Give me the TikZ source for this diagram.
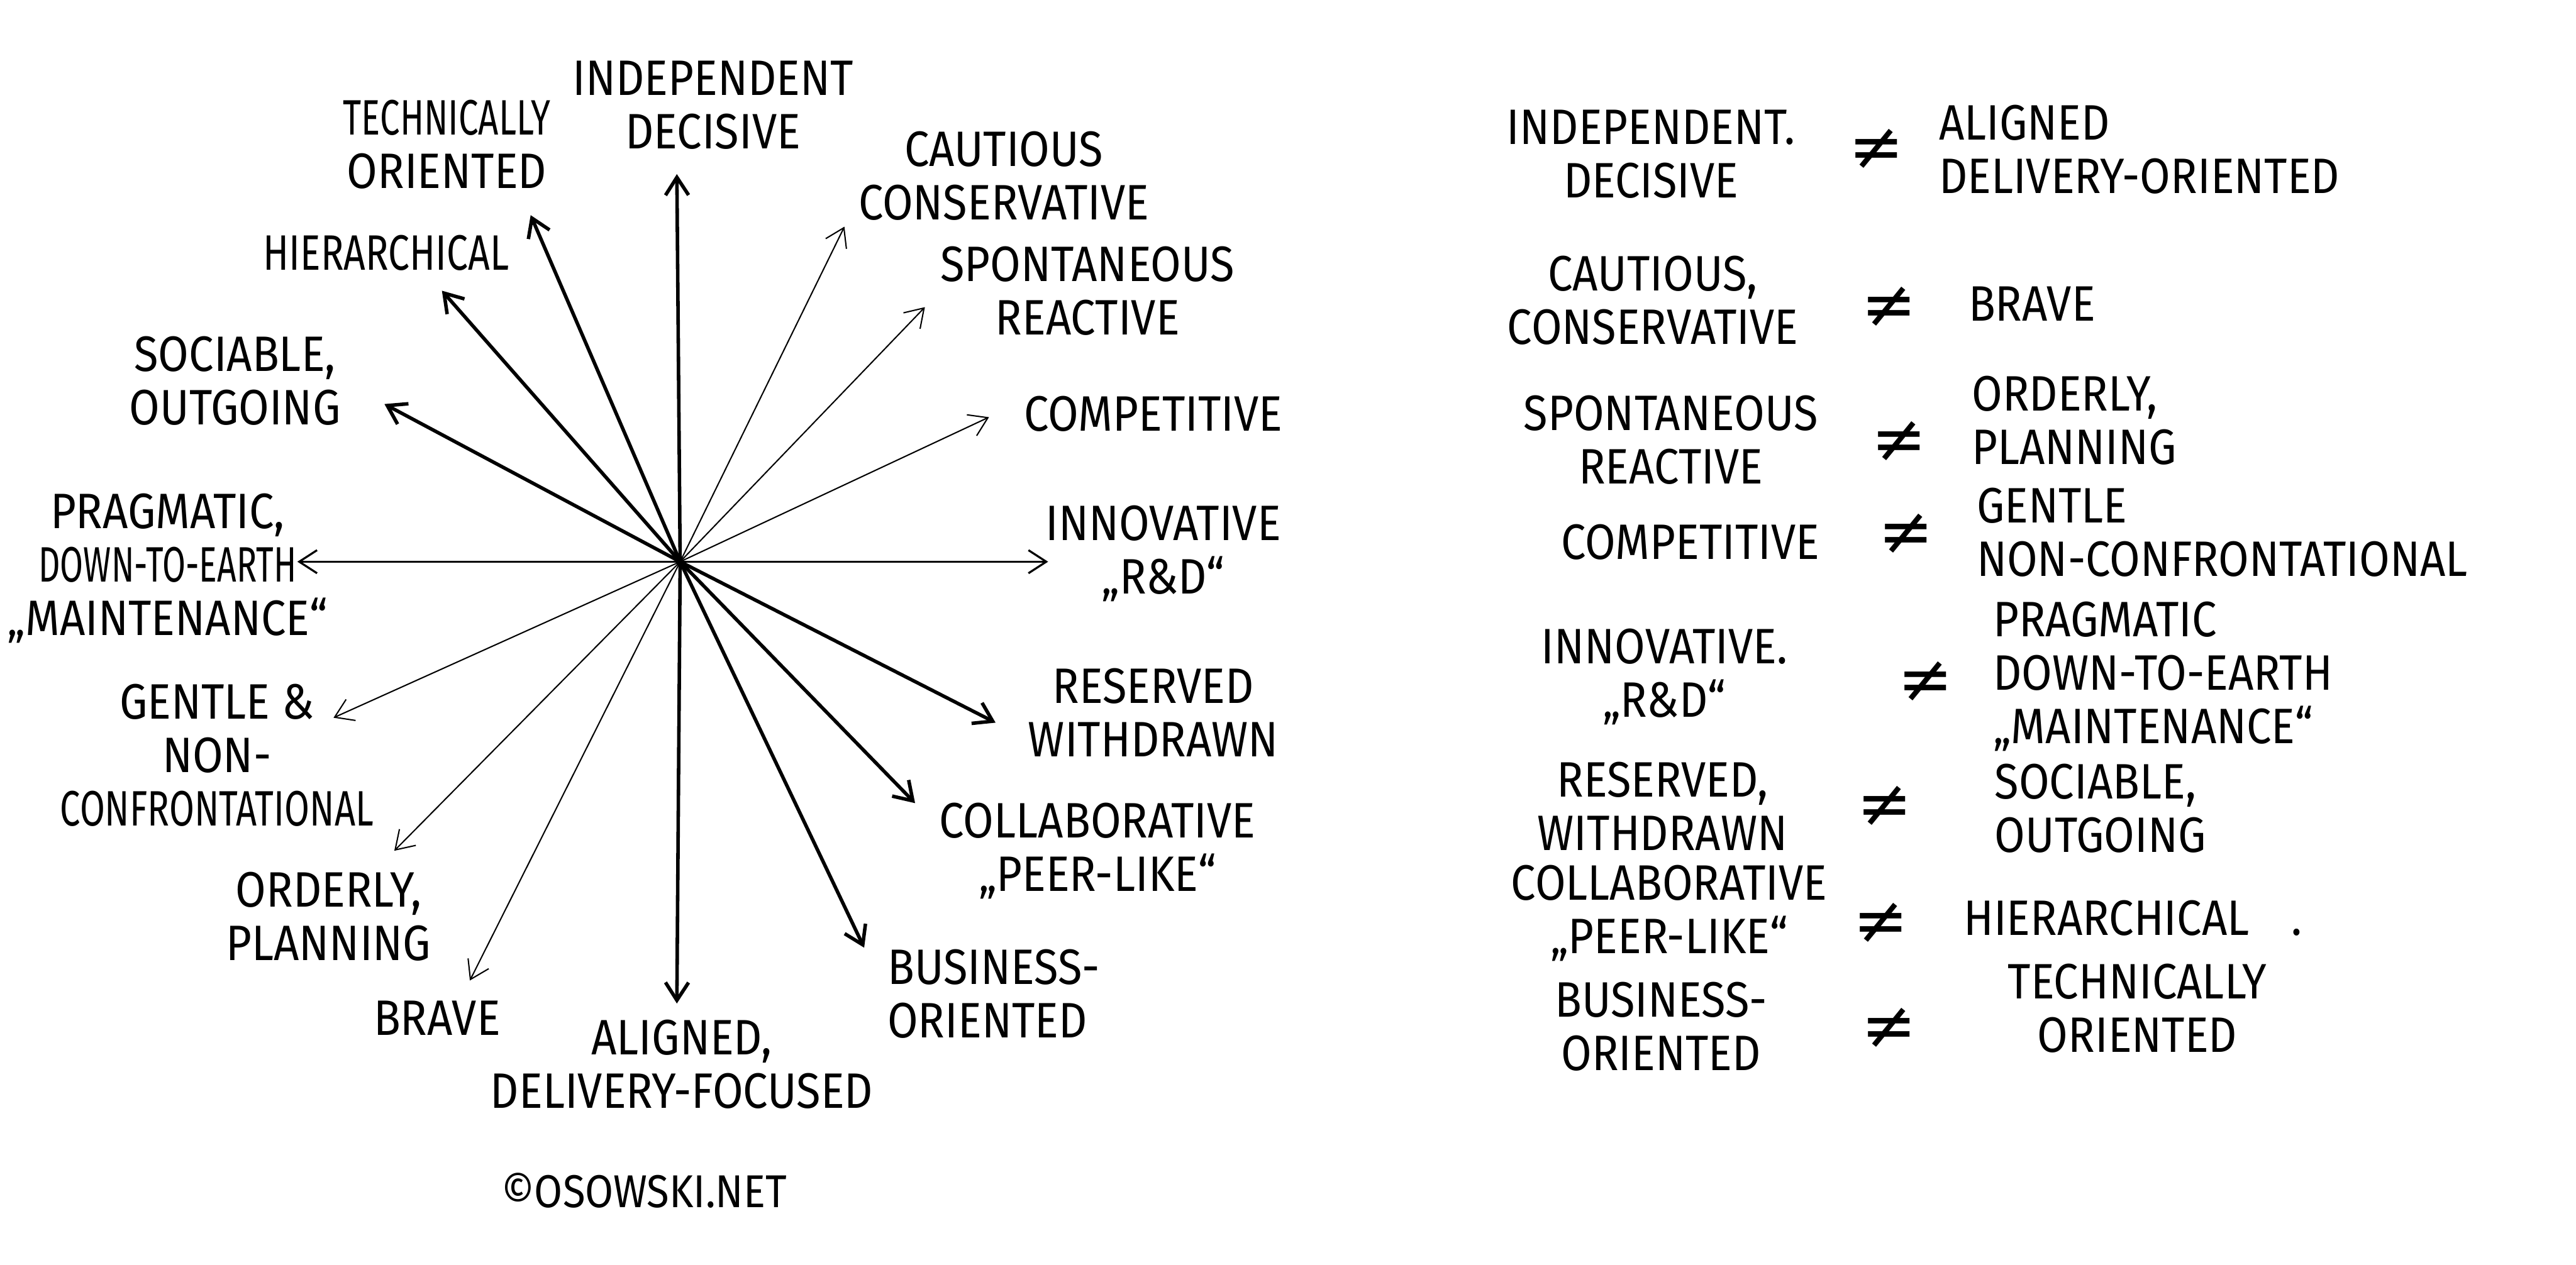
\documentclass[tikz,border=0pt]{standalone}
\usepackage{graphicx}
\usepackage{fontspec}
\setmainfont{Fira Sans}[FakeStretch=0.89]
\newfontfamily\neqfont{DejaVu Sans}
\usetikzlibrary{arrows.meta}
\newcommand{\squeeze}[2]{\scalebox{#1}[1]{#2}}
\tikzset{
  >={Straight Barb[length=3.4mm,width=4.4mm]},
  wire/.style={line width=1.9pt, line cap=round},
  wirem/.style={line width=1.1pt, line cap=round},
  wiret/.style={line width=0.7pt, line cap=round},
  lbl/.style={font=\fontsize{27}{29}\selectfont, align=center, inner sep=0pt},
  lbll/.style={lbl, align=left, anchor=west},
  neqsign/.style={font=\neqfont\fontsize{36}{36}\selectfont, inner sep=0pt},
}
\begin{document}
\begin{tikzpicture}[x=0.03132cm, y=-0.03132cm]
  \useasboundingbox (0,0) rectangle (1568,770);

  % ----- star centre and arrow tips ------------------------------------------
  \coordinate (c)      at (414,342);
  \coordinate (tIndep) at (412,106);
  \coordinate (tTech)  at (323,131);
  \coordinate (tHier)  at (269,177);
  \coordinate (tSoc)   at (234,246);
  \coordinate (tPrag)  at (181,342);
  \coordinate (tGent)  at (203,437);
  \coordinate (tOrd)   at (240,518);
  \coordinate (tBrave) at (286,597);
  \coordinate (tAlign) at (412,611);
  \coordinate (tBus)   at (526,577);
  \coordinate (tColl)  at (557,489);
  \coordinate (tRes)   at (606,440);
  \coordinate (tInno)  at (638,342);
  \coordinate (tComp)  at (602,254);
  \coordinate (tSpon)  at (563,187);
  \coordinate (tCaut)  at (514,138);

  % ----- star labels ---------------------------------------------------------
  \node[lbl] (lIndep) at (434,64)  {INDEPENDENT\\DECISIVE};
  \node[lbl] (lTech)  at (272,88)  {\squeeze{0.8}{TECHNICALLY}\\ORIENTED};
  \node[lbl] (lCaut)  at (611,107) {CAUTIOUS\\CONSERVATIVE};
  \node[lbl] (lHier)  at (235,154) {\squeeze{0.86}{HIERARCHICAL}};
  \node[lbl] (lSpon)  at (662,177) {SPONTANEOUS\\REACTIVE};
  \node[lbl] (lSoc)   at (143,232) {SOCIABLE,\\OUTGOING};
  \node[lbl] (lComp)  at (702,252) {COMPETITIVE};
  \node[lbl] (lPrag)  at (102,346) {PRAGMATIC,\\\squeeze{0.76}{DOWN-TO-EARTH}\\„MAINTENANCE“};
  \node[lbl] (lInno)  at (708,337) {INNOVATIVE\\„R\&D“};
  \node[lbl] (lRes)   at (702,434) {RESERVED\\WITHDRAWN};
  \node[lbl] (lGent)  at (132,460) {GENTLE \&\\NON-\\\squeeze{0.82}{CONFRONTATIONAL}};
  \node[lbl] (lColl)  at (668,518) {COLLABORATIVE\\„PEER-LIKE“};
  \node[lbl] (lOrd)   at (200,558) {ORDERLY,\\PLANNING};
  \node[lbl] (lBrave) at (266,620) {BRAVE};
  \node[lbl] (lAlign) at (415,648) {ALIGNED,\\DELIVERY-FOCUSED};
  \node[lbll] (lBus)  at (540,605) {BUSINESS-\\ORIENTED};
  \node[lbl, font=\fontsize{25}{27}\selectfont] (copy) at (392,725) {©OSOWSKI.NET};

  % ----- star arrows ---------------------------------------------------------
  \draw[wire,->]  (c) -- (tIndep);
  \draw[wire,->]  (c) -- (tTech);
  \draw[wire,->]  (c) -- (tHier);
  \draw[wire,->]  (c) -- (tSoc);
  \draw[wirem,->] (c) -- (tPrag);
  \draw[wiret,->] (c) -- (tGent);
  \draw[wiret,->] (c) -- (tOrd);
  \draw[wiret,->] (c) -- (tBrave);
  \draw[wire,->]  (c) -- (tAlign);
  \draw[wire,->]  (c) -- (tBus);
  \draw[wire,->]  (c) -- (tColl);
  \draw[wire,->]  (c) -- (tRes);
  \draw[wirem,->] (c) -- (tInno);
  \draw[wiret,->] (c) -- (tComp);
  \draw[wiret,->] (c) -- (tSpon);
  \draw[wiret,->] (c) -- (tCaut);

  % ----- list of opposites ---------------------------------------------------
  \node[lbl]  (p1a) at (1005,94)  {INDEPENDENT.\\DECISIVE};
  \node[neqsign] (n1) at (1142,91)  {≠};
  \node[lbll] (p1b) at (1180,91)  {ALIGNED\\DELIVERY-ORIENTED};

  \node[lbl]  (p2a) at (1006,183) {CAUTIOUS,\\CONSERVATIVE};
  \node[neqsign] (n2) at (1150,187) {≠};
  \node[lbll] (p2b) at (1198,185) {BRAVE};

  \node[lbl]  (p3a) at (1017,268) {SPONTANEOUS\\REACTIVE};
  \node[neqsign] (n3) at (1156,269) {≠};
  \node[lbll] (p3b) at (1200,256) {ORDERLY,\\PLANNING};

  \node[lbl]  (p4a) at (1029,330) {COMPETITIVE};
  \node[neqsign] (n4) at (1160,325) {≠};
  \node[lbll] (p4b) at (1203,324) {GENTLE\\NON-CONFRONTATIONAL};

  \node[lbl]  (p5a) at (1013,412) {INNOVATIVE.\\„R\&D“};
  \node[neqsign] (n5) at (1172,415) {≠};
  \node[lbll] (p5b) at (1213,412) {PRAGMATIC\\DOWN-TO-EARTH\\„MAINTENANCE“};

  \node[lbl]  (p6a) at (1012,491) {RESERVED,\\WITHDRAWN};
  \node[neqsign] (n6) at (1147,491) {≠};
  \node[lbll] (p6b) at (1214,492) {SOCIABLE,\\OUTGOING};

  \node[lbl]  (p7a) at (1016,556) {COLLABORATIVE\\„PEER-LIKE“};
  \node[neqsign] (n7) at (1145,562) {≠};
  \node[lbll] (p7b) at (1195,559) {HIERARCHICAL\hspace{0.8cm}.};

  \node[lbl]  (p8a) at (1011,625) {BUSINESS-\\ORIENTED};
  \node[neqsign] (n8) at (1150,626) {≠};
  \node[lbl]  (p8b) at (1301,614) {TECHNICALLY\\ORIENTED};

\end{tikzpicture}
\end{document}
